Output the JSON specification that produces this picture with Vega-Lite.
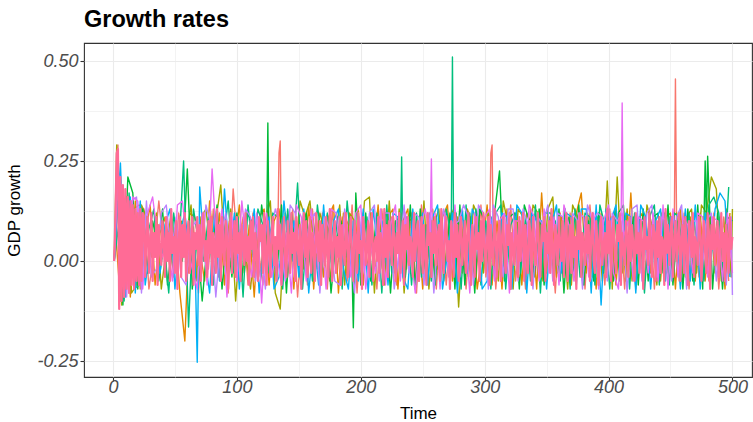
{
"$schema":"https://vega.github.io/schema/vega-lite/v6.json",
"width":668,"height":334,
"autosize":{"type":"none"},
"padding":{"left":84,"top":43,"right":1,"bottom":45},
"background":"white",
"config":{"view":{"stroke":"#333333","strokeWidth":1.1},"font":"Liberation Sans"},
"title":{"text":"Growth rates","anchor":"start","frame":"group","fontSize":23.5,"fontWeight":"bold","font":"Liberation Sans","color":"#000000","baseline":"alphabetic","offset":-7},
"data":{"values":[
{"t":1,"p":0,"r":0,"o":0,"y":0,"g":0,"c":0,"b":0,"v":0,"m":0},
{"t":2,"p":0.12,"o":0.08,"b":0.05},
{"t":3,"p":0.27,"y":0.29,"v":0.2},
{"t":4,"p":0.28,"g":0.15,"m":0.22,"r":0.29},
{"t":5,"p":-0.12,"r":-0.11,"c":0.1},
{"t":6,"p":0.21,"o":-0.1,"b":0.245},
{"t":7,"p":-0.1,"y":-0.11,"v":0.18},
{"t":8,"p":0.19,"g":-0.11,"m":0.17},
{"t":9,"p":-0.09,"r":0.15,"c":-0.1},
{"t":10,"p":0.18,"o":0.14,"b":-0.09},
{"t":11,"p":-0.07,"y":0.16,"v":-0.09},
{"t":12,"p":0.16,"g":0.21,"m":-0.06},
{"t":13,"p":-0.08,"r":-0.08,"c":0.17},
{"t":14,"p":0.15,"o":-0.09,"b":0.16},
{"t":15,"p":-0.06,"y":-0.08,"v":0.15},
{"t":16,"p":0.14,"g":0.17,"m":0.16},
{"t":17,"p":-0.07,"r":0.13,"c":-0.07},
{"t":18,"p":0.13,"o":0.15,"b":-0.08},
{"t":19,"p":-0.05,"y":-0.06,"v":0.16},
{"t":20,"p":0.12,"g":-0.07,"m":0.15},
{"t":21,"p":-0.06,"r":0.14,"c":-0.06},
{"t":22,"p":0.13,"o":-0.07,"b":0.15},
{"t":23,"p":-0.05,"y":0.14,"v":-0.08},
{"t":24,"p":0.12,"g":0.13,"m":-0.07},
{"t":25,"p":0.1,"r":0.13,"c":0.02},
{"t":26,"p":-0.04,"o":0.06,"b":-0.06},
{"t":27,"p":0.06,"y":0.11,"v":0.15},
{"t":28,"p":0.11,"g":-0.03,"m":0.12},
{"t":29,"p":-0.03,"r":-0.07,"c":0.08},
{"t":30,"p":0.04,"o":0.14,"b":0.03},
{"t":31,"p":0.12,"y":0.01,"v":-0.04},
{"t":32,"p":-0.05,"g":0.1,"m":0.16},
{"t":33,"p":0.07,"r":0.02,"c":0.13},
{"t":34,"p":0.01,"o":-0.06,"b":0.05},
{"t":35,"p":0.11,"y":0.12,"v":-0.02},
{"t":36,"p":-0.06,"g":0.04,"m":0.06},
{"t":37,"p":0.09,"r":0.15,"c":-0.05},
{"t":38,"p":0.03,"o":0.07,"b":-0.03},
{"t":39,"p":-0.01,"y":-0.07,"v":0.12},
{"t":40,"p":0.1,"g":0.13,"m":0.01},
{"t":41,"p":0.05,"r":0.03,"c":0.04},
{"t":42,"p":-0.04,"o":0.11,"b":0.09},
{"t":43,"p":0.11,"y":0.03,"v":0.14},
{"t":44,"p":0,"g":-0.06,"m":0.05},
{"t":45,"p":0.07,"r":0.09,"c":-0.08},
{"t":46,"p":-0.05,"o":-0.02,"b":0.13},
{"t":47,"p":0.13,"y":0.12,"v":0.02},
{"t":48,"p":0.02,"g":0.05,"m":-0.05},
{"t":49,"p":0.06,"r":-0.04,"c":0.12},
{"t":50,"p":-0.03,"o":0.08,"b":-0.07},
{"t":51,"p":0.1,"y":0.01,"v":0.11},
{"t":52,"p":-0.07,"g":0.05,"m":0.14},
{"t":53,"p":0.05,"r":0.12,"c":0.02},
{"t":54,"p":0.11,"o":-0.08,"b":0.07},
{"t":55,"p":-0.04,"y":0.1,"v":-0.04},
{"t":56,"p":0.09,"g":0,"m":0.15},
{"t":57,"p":0.01,"r":0.05,"c":0.25},
{"t":58,"p":0.12,"o":-0.2,"b":0.12},
{"t":59,"p":-0.05,"y":0.06,"v":-0.06},
{"t":60,"p":0.06,"g":0.23,"m":0.04},
{"t":61,"p":0.1,"r":-0.03,"c":-0.165},
{"t":62,"p":-0.03,"o":0.12,"b":0.01},
{"t":63,"p":0.04,"y":0.14,"v":0.08},
{"t":64,"p":0.11,"g":-0.07,"m":-0.02},
{"t":65,"p":-0.06,"r":0.09,"c":0.13},
{"t":66,"p":0.07,"o":0.11,"b":0.04},
{"t":67,"p":0.03,"y":-0.05,"v":0.1},
{"t":68,"p":0.11,"g":0.06,"m":-0.07,"b":-0.253},
{"t":69,"p":-0.01,"r":-0.08,"c":0.05},
{"t":70,"p":0.09,"o":0.03,"b":0.185},
{"t":71,"p":-0.05,"y":0.11,"v":-0.03},
{"t":72,"p":0.06,"g":-0.1,"m":0.12},
{"t":73,"p":0.12,"r":0.12,"c":0},
{"t":74,"p":0,"o":-0.05,"b":0.01},
{"t":75,"p":0.05,"y":0.13,"v":0.14},
{"t":76,"p":-0.04,"g":0.04,"m":-0.06},
{"t":77,"p":0.1,"r":-0.02,"c":0.11},
{"t":78,"p":0.02,"o":0.15,"b":-0.08},
{"t":79,"p":0.11,"y":0.02,"v":0.09},
{"t":80,"p":-0.06,"g":0.03,"m":0.23},
{"t":81,"p":0.07,"r":0.13,"c":-0.06},
{"t":82,"p":0.04,"o":0.01,"b":0.12},
{"t":83,"p":-0.03,"y":0.1,"v":-0.09},
{"t":84,"p":0.13,"g":0.14,"m":0.02},
{"t":85,"p":0.01,"r":-0.04,"c":0.08},
{"t":86,"p":0.09,"o":0.12,"b":-0.05},
{"t":87,"p":-0.05,"y":0.19,"v":0.06},
{"t":88,"p":0.11,"g":-0.07,"m":0.13},
{"t":89,"p":0.03,"r":0.11,"c":0.05},
{"t":90,"p":-0.01,"o":-0.06,"b":0.18},
{"t":91,"p":0.1,"y":0,"v":0.12},
{"t":92,"p":0.06,"g":0.07,"m":-0.09},
{"t":93,"p":-0.07,"r":-0.08,"c":0.15},
{"t":94,"p":0.07,"o":0.1,"b":0},
{"t":95,"p":0.12,"y":0.13,"v":0.01},
{"t":96,"p":-0.03,"g":-0.04,"m":0.11},
{"t":97,"p":0.04,"r":0.18,"c":-0.03},
{"t":98,"p":0.1,"o":0.04,"b":0.12},
{"t":99,"p":-0.04,"y":-0.1,"v":0.06},
{"t":100,"p":0.11,"g":0.12,"m":-0.05},
{"t":101,"p":0.02,"r":0.02,"c":0.11},
{"t":102,"p":0.07,"o":0.14,"b":-0.07},
{"t":103,"p":-0.05,"y":0.08,"v":-0.02},
{"t":104,"p":0.09,"g":-0.05,"m":0.15},
{"t":105,"p":0.05,"r":0.11,"c":-0.09},
{"t":106,"p":-0.01,"o":-0.03,"b":0.1},
{"t":107,"p":0.12,"y":0.02,"v":0.13},
{"t":108,"p":0,"g":0.12,"m":0.03},
{"t":109,"p":0.06,"r":-0.06,"c":0.14},
{"t":110,"p":-0.06,"o":0.09,"b":0.03},
{"t":111,"p":0.1,"y":-0.07,"v":0.11},
{"t":112,"p":0.03,"g":0.1,"m":-0.04},
{"t":113,"p":0.11,"r":0.12,"c":0.01},
{"t":114,"p":-0.04,"o":-0.09,"b":0.13},
{"t":115,"p":0.07,"y":0.06,"v":-0.05},
{"t":116,"p":0.01,"g":-0.02,"m":0.12},
{"t":117,"p":-0.05,"r":0.04,"c":0.13},
{"t":118,"p":0.11,"o":0.11,"b":-0.08},
{"t":119,"p":0.05,"y":-0.04,"v":0.07},
{"t":120,"p":0.09,"g":0.14,"m":-0.105},
{"t":121,"p":-0.03,"r":-0.06,"c":0.09},
{"t":122,"p":0.12,"o":0.13,"b":0.05},
{"t":123,"p":0.02,"y":0.1,"v":-0.07},
{"t":124,"p":-0.06,"g":0.04,"m":0.12},
{"t":125,"p":0.1,"r":0.14,"c":-0.03,"g":0.345},
{"t":126,"p":0.04,"o":-0.06,"b":0.11,"g":0.03},
{"t":127,"p":-0.04,"y":0.15,"v":0.06},
{"t":128,"p":0.07,"g":0.08,"m":-0.04},
{"t":129,"p":0.11,"r":-0.03,"c":0.12},
{"t":130,"p":-0.01,"o":0.1,"b":-0.07},
{"t":131,"p":0.06,"y":-0.08,"v":0.13},
{"t":132,"p":-0.05,"g":-0.05,"m":0.02},
{"t":133,"p":0.13,"r":0.05,"c":0.11},
{"t":134,"p":0.03,"o":0.13,"b":-0.04,"r":0.27},
{"t":135,"p":0.09,"y":-0.12,"v":0.09,"r":0.3},
{"t":136,"p":-0.06,"g":0.14,"m":-0.06,"r":0.03},
{"t":137,"p":0.05,"r":0.1,"c":-0.07},
{"t":138,"p":0.11,"o":0.02,"b":0.15},
{"t":139,"p":0,"y":0.12,"v":-0.05},
{"t":140,"p":-0.04,"g":-0.08,"m":0.07},
{"t":141,"p":0.1,"r":-0.04,"c":0.13},
{"t":142,"p":0.06,"o":0.11,"b":0.02},
{"t":143,"p":-0.03,"y":0.06,"v":0.14},
{"t":144,"p":0.12,"g":0.12,"m":-0.08},
{"t":145,"p":0.02,"r":0.13,"c":0},
{"t":146,"p":0.07,"o":-0.07,"b":0.1},
{"t":147,"p":-0.05,"y":-0.03,"v":0.12},
{"t":148,"p":0.11,"g":0.03,"m":0.14},
{"t":149,"p":0.04,"r":-0.09,"c":0.195},
{"t":150,"p":-0.01,"o":0.12,"b":-0.04},
{"t":151,"p":0.09,"y":0.15,"v":0.05},
{"t":152,"p":-0.07,"g":-0.06,"m":0.11},
{"t":153,"p":0.06,"r":0.09,"c":-0.07},
{"t":154,"p":0.12,"o":-0.02,"b":0.13},
{"t":155,"p":0.01,"y":0.11,"v":0.03},
{"t":156,"p":0.1,"g":0.12,"m":-0.05},
{"t":157,"p":-0.04,"r":-0.06,"c":0.08},
{"t":158,"p":0.05,"o":0.14,"b":-0.08},
{"t":159,"p":0.11,"y":0.15,"v":0.1},
{"t":160,"p":-0.03,"g":-0.03,"m":0.13},
{"t":161,"p":0.07,"r":0.13,"c":-0.05},
{"t":162,"p":0.03,"o":-0.07,"b":0.06},
{"t":163,"p":-0.05,"y":0.02,"v":0.12},
{"t":164,"p":0.12,"g":0.11,"m":0.02},
{"t":165,"p":0.06,"r":-0.02,"c":0.14},
{"t":166,"p":0,"o":0.1,"b":-0.06},
{"t":167,"p":0.1,"y":0.12,"v":-0.08},
{"t":168,"p":-0.06,"g":-0.05,"m":0.09},
{"t":169,"p":0.09,"r":0.12,"c":0.04},
{"t":170,"p":0.04,"o":-0.04,"b":0.14},
{"t":171,"p":-0.01,"y":0.07,"v":0.11},
{"t":172,"p":0.11,"g":0.1,"m":-0.07},
{"t":173,"p":0.02,"r":-0.07,"c":0.12},
{"t":174,"p":-0.04,"o":0.11,"b":-0.02},
{"t":175,"p":0.13,"y":-0.05,"v":0.08},
{"t":176,"p":0.05,"g":-0.08,"m":0.13},
{"t":177,"p":-0.05,"r":0.13,"c":-0.04},
{"t":178,"p":0.07,"o":0.14,"b":0.1},
{"t":179,"p":0.1,"y":0.06,"v":-0.05},
{"t":180,"p":-0.03,"g":0.05,"m":0.12},
{"t":181,"p":0.06,"r":-0.03,"c":0.11},
{"t":182,"p":0.01,"o":-0.08,"b":0.13},
{"t":183,"p":0.11,"y":0.14,"v":-0.06},
{"t":184,"p":-0.06,"g":0.1,"m":0.01},
{"t":185,"p":0.09,"r":0.11,"c":-0.07},
{"t":186,"p":0.03,"o":0.12,"b":-0.02},
{"t":187,"p":-0.01,"y":-0.06,"v":0.13},
{"t":188,"p":0.12,"g":0.01,"m":0.12},
{"t":189,"p":0.04,"r":-0.05,"c":0.15},
{"t":190,"p":-0.04,"o":0.09,"b":-0.07},
{"t":191,"p":0.07,"y":0.12,"v":0.03},
{"t":192,"p":0.11,"g":0.11,"m":-0.04},
{"t":193,"p":0,"r":0.14,"c":0.02},
{"t":194,"p":-0.05,"o":-0.03,"b":0.1,"g":-0.167},
{"t":195,"p":0.1,"y":0.1,"v":-0.08},
{"t":196,"p":0.06,"g":0.17,"m":0.12},
{"t":197,"p":-0.03,"r":-0.08,"c":0.07},
{"t":198,"p":0.12,"o":0.13,"b":-0.05},
{"t":199,"p":0.02,"y":-0.02,"v":0.11},
{"t":200,"p":0.05,"g":-0.06,"m":0.14},
{"t":201,"p":-0.07,"r":0.12,"c":0.02},
{"t":202,"p":0.11,"o":-0.06,"b":0.13},
{"t":203,"p":0.07,"y":0.15,"v":-0.03},
{"t":204,"p":-0.01,"g":0.12,"m":-0.07},
{"t":205,"p":0.03,"r":-0.02,"c":0.11},
{"t":206,"p":0.1,"o":0.1,"b":-0.08},
{"t":207,"p":-0.04,"y":0.16,"v":0.12},
{"t":208,"p":0.09,"g":-0.05,"m":0.04},
{"t":209,"p":0.12,"r":0.11,"c":-0.06},
{"t":210,"p":-0.05,"o":0.01,"b":0.13},
{"t":211,"p":0.04,"y":-0.08,"v":0.14},
{"t":212,"p":0.06,"g":0.09,"m":-0.03},
{"t":213,"p":0,"r":-0.07,"c":0.12},
{"t":214,"p":0.11,"o":0.14,"b":0.03},
{"t":215,"p":-0.03,"y":0.11,"v":-0.05},
{"t":216,"p":0.07,"g":-0.02,"m":0.13},
{"t":217,"p":0.05,"r":0.13,"c":-0.08},
{"t":218,"p":-0.06,"o":-0.04,"b":0.1},
{"t":219,"p":0.13,"y":-0.06,"v":0.12},
{"t":220,"p":0.01,"g":0.12,"m":-0.06},
{"t":221,"p":0.09,"r":0,"c":0.14},
{"t":222,"p":-0.04,"o":0.11,"b":-0.06},
{"t":223,"p":0.1,"y":0.15,"v":0.12},
{"t":224,"p":0.04,"g":-0.08,"m":0.09},
{"t":225,"p":-0.01,"r":0.11,"c":-0.03},
{"t":226,"p":0.11,"o":0.13,"b":0.12},
{"t":227,"p":0.06,"y":-0.03,"v":-0.07},
{"t":228,"p":-0.05,"g":0.1,"m":0.14},
{"t":229,"p":0.07,"r":-0.06,"c":0.1},
{"t":230,"p":0.02,"o":-0.07,"b":0.11},
{"t":231,"p":0.12,"y":0.13,"v":0.02},
{"t":232,"p":-0.03,"g":0.11,"m":-0.05,"c":0.05},
{"t":233,"p":0.05,"r":0.12,"c":0.26},
{"t":234,"p":0.1,"o":0.1,"b":-0.04,"c":0.03},
{"t":235,"p":-0.06,"y":-0.08,"v":0.14},
{"t":236,"p":0.09,"g":-0.04,"m":0.12},
{"t":237,"p":0.03,"r":-0.02,"c":0.11},
{"t":238,"p":0.11,"o":0.13,"b":-0.07},
{"t":239,"p":-0.01,"y":0.1,"v":-0.03},
{"t":240,"p":0.06,"g":0.14,"m":0.03},
{"t":241,"p":0.04,"r":0.12,"c":-0.06},
{"t":242,"p":-0.04,"o":-0.03,"b":0.13},
{"t":243,"p":0.12,"y":0.11,"v":0.12},
{"t":244,"p":0,"g":-0.07,"m":-0.08},
{"t":245,"p":0.07,"r":-0.08,"c":0.12},
{"t":246,"p":0.1,"o":0.1,"b":-0.02},
{"t":247,"p":-0.05,"y":-0.05,"v":0.11},
{"t":248,"p":0.05,"g":0.13,"m":0.08},
{"t":249,"p":0.11,"r":0.14,"c":-0.04},
{"t":250,"p":-0.03,"o":-0.07,"b":0.12},
{"t":251,"p":0.09,"y":0.15,"v":-0.06},
{"t":252,"p":0.01,"g":-0.02,"m":0.13},
{"t":253,"p":-0.06,"r":-0.04,"c":0.09},
{"t":254,"p":0.12,"o":0.11,"b":-0.06},
{"t":255,"p":0.04,"y":-0.07,"v":0.12},
{"t":256,"p":0.07,"g":0.12,"m":0.06},
{"t":257,"p":-0.04,"r":0.1,"c":-0.05,"m":0.255},
{"t":258,"p":0.1,"o":0.13,"b":0.11,"m":0.02},
{"t":259,"p":0.02,"y":0.09,"v":-0.08},
{"t":260,"p":0.11,"g":-0.06,"m":0.12},
{"t":261,"p":-0.01,"r":-0.07,"c":0.11},
{"t":262,"p":0.06,"o":-0.02,"b":0.14},
{"t":263,"p":0.09,"y":0.13,"v":0.08},
{"t":264,"p":-0.05,"g":0.1,"m":-0.07},
{"t":265,"p":0.13,"r":0.12,"c":-0.03},
{"t":266,"p":0.03,"o":0.11,"b":-0.07},
{"t":267,"p":-0.03,"y":-0.05,"v":0.13},
{"t":268,"p":0.07,"g":-0.03,"m":0.12},
{"t":269,"p":0.11,"r":-0.06,"c":0.13},
{"t":270,"p":0,"o":0.14,"b":0.02},
{"t":271,"p":0.05,"y":0.1,"v":-0.04},
{"t":272,"p":-0.07,"g":0.12,"m":-0.06},
{"t":273,"p":0.1,"r":0.11,"c":0.06},
{"t":274,"p":0.06,"o":-0.05,"b":0.12,"c":0.51},
{"t":275,"p":-0.04,"y":0.13,"v":0.09,"c":0.04},
{"t":276,"p":0.12,"g":-0.07,"m":0.14},
{"t":277,"p":0.01,"r":-0.02,"c":0.12},
{"t":278,"p":0.09,"o":0.11,"b":-0.08},
{"t":279,"p":-0.05,"y":-0.115,"v":0.1},
{"t":280,"p":0.07,"g":0.14,"m":-0.04},
{"t":281,"p":0.11,"r":0.12,"c":-0.07},
{"t":282,"p":-0.01,"o":-0.03,"b":0.13},
{"t":283,"p":0.04,"y":0.1,"v":0.14},
{"t":284,"p":0.1,"g":-0.06,"m":0.09},
{"t":285,"p":-0.03,"r":-0.07,"c":0.14},
{"t":286,"p":0.06,"o":0.13,"b":-0.03},
{"t":287,"p":0.12,"y":-0.04,"v":0.11},
{"t":288,"p":0.02,"g":0.12,"m":-0.08},
{"t":289,"p":-0.06,"r":0.11,"c":-0.04},
{"t":290,"p":0.09,"o":0.09,"b":0.13},
{"t":291,"p":0.05,"y":0.14,"v":-0.06},
{"t":292,"p":-0.04,"g":-0.08,"m":0.12},
{"t":293,"p":0.11,"r":-0.05,"c":0.13},
{"t":294,"p":0.03,"o":-0.07,"b":0.1},
{"t":295,"p":0.07,"y":0.11,"v":0.14},
{"t":296,"p":-0.05,"g":0.13,"m":-0.03},
{"t":297,"p":0.1,"r":0.14,"c":-0.06},
{"t":298,"p":0,"o":0.02,"b":-0.07},
{"t":299,"p":0.12,"y":-0.03,"v":0.12},
{"t":300,"p":0.04,"g":0.1,"m":0.11},
{"t":301,"p":-0.03,"r":-0.04,"c":0.1},
{"t":302,"p":0.06,"o":0.14,"b":-0.05},
{"t":303,"p":0.11,"y":0.12,"v":-0.07},
{"t":304,"p":-0.06,"g":-0.03,"m":0.13,"r":0.05},
{"t":305,"p":0.09,"r":0.27,"c":-0.07},
{"t":306,"p":0.02,"o":-0.06,"b":0.11,"r":0.29},
{"t":307,"p":-0.01,"y":0.1,"v":0.14,"r":0.04},
{"t":308,"p":0.13,"g":0.12,"m":-0.05},
{"t":309,"p":0.05,"r":-0.07,"c":0.12},
{"t":310,"p":-0.04,"o":0.1,"b":-0.03},
{"t":311,"p":0.07,"y":-0.05,"v":0.11},
{"t":312,"p":0.1,"g":0.225,"m":0.1},
{"t":313,"p":-0.05,"r":0.11,"c":0.14},
{"t":314,"p":0.06,"o":-0.07,"b":0.12},
{"t":315,"p":0.11,"y":0.15,"v":-0.04},
{"t":316,"p":0.01,"g":-0.05,"m":0.12},
{"t":317,"p":-0.03,"r":-0.03,"c":-0.07},
{"t":318,"p":0.09,"o":0.13,"b":0.11},
{"t":319,"p":0.04,"y":0.09,"v":0.13},
{"t":320,"p":0.12,"g":0.11,"m":-0.08},
{"t":321,"p":-0.07,"r":0.14,"c":0.09},
{"t":322,"p":0.07,"o":-0.04,"b":-0.07},
{"t":323,"p":0.03,"y":-0.07,"v":0.13},
{"t":324,"p":-0.01,"g":0.12,"m":0.1},
{"t":325,"p":0.1,"r":-0.05,"c":0.12},
{"t":326,"p":0.06,"o":0.11,"b":0.14},
{"t":327,"p":-0.04,"y":0.13,"v":-0.05},
{"t":328,"p":0.11,"g":-0.07,"m":0.1},
{"t":329,"p":0,"r":0.1,"c":-0.03},
{"t":330,"p":0.05,"o":-0.06,"b":0.12},
{"t":331,"p":0.12,"y":0.11,"v":0.13},
{"t":332,"p":-0.05,"g":0.14,"m":-0.04},
{"t":333,"p":0.09,"r":-0.07,"c":0.11},
{"t":334,"p":0.02,"o":0.12,"b":-0.08},
{"t":335,"p":-0.03,"y":-0.03,"v":0.09},
{"t":336,"p":0.1,"g":0.1,"m":0.14},
{"t":337,"p":0.07,"r":0.13,"c":-0.05},
{"t":338,"p":-0.06,"o":0.09,"b":0.12},
{"t":339,"p":0.11,"y":0.14,"v":-0.07},
{"t":340,"p":0.04,"g":-0.04,"m":0.11},
{"t":341,"p":-0.01,"r":-0.03,"c":0.14},
{"t":342,"p":0.06,"o":-0.07,"b":0.1},
{"t":343,"p":0.12,"y":0.12,"v":0.11},
{"t":344,"p":0.01,"g":0.13,"m":-0.05},
{"t":345,"p":-0.04,"r":0.11,"c":-0.08},
{"t":346,"p":0.09,"o":0.17,"b":0.1},
{"t":347,"p":0.05,"y":-0.05,"v":0.09},
{"t":348,"p":0.11,"g":-0.06,"m":0.13},
{"t":349,"p":-0.05,"r":-0.05,"c":0.12},
{"t":350,"p":0.07,"o":-0.03,"b":-0.07},
{"t":351,"p":0.02,"y":0.13,"v":0.14},
{"t":352,"p":0.1,"g":0.11,"m":-0.03},
{"t":353,"p":-0.03,"r":0.1,"c":0.12},
{"t":354,"p":0.13,"o":0.13,"b":0.09},
{"t":355,"p":0.03,"y":0.16,"v":-0.05},
{"t":356,"p":-0.06,"g":-0.05,"m":0.11},
{"t":357,"p":0.09,"r":-0.08,"c":0.1},
{"t":358,"p":0.06,"o":-0.04,"b":0.14},
{"t":359,"p":-0.01,"y":-0.03,"v":0.12},
{"t":360,"p":0.11,"g":0.13,"m":-0.06},
{"t":361,"p":0.04,"r":0.12,"c":-0.05},
{"t":362,"p":0,"o":0.11,"b":-0.03},
{"t":363,"p":0.1,"y":0.09,"v":0.11},
{"t":364,"p":-0.04,"g":-0.08,"m":0.14},
{"t":365,"p":0.07,"r":-0.03,"c":0.13},
{"t":366,"p":0.12,"o":0.1,"b":0.12},
{"t":367,"p":-0.05,"y":-0.07,"v":-0.04},
{"t":368,"p":0.05,"g":0.11,"m":0.09},
{"t":369,"p":0.09,"r":0.12,"c":-0.07},
{"t":370,"p":-0.03,"o":-0.06,"b":0.11},
{"t":371,"p":0.11,"y":0.14,"v":0.12},
{"t":372,"p":0.01,"g":-0.04,"m":-0.05},
{"t":373,"p":0.06,"r":-0.05,"c":0.13},
{"t":374,"p":-0.07,"o":0.12,"b":-0.06},
{"t":375,"p":0.1,"y":0.11,"v":0.1},
{"t":376,"p":0.03,"g":0.14,"m":0.12},
{"t":377,"p":0.12,"r":0.1,"c":-0.04},
{"t":378,"p":-0.04,"o":0.17,"b":0.13},
{"t":379,"p":0.07,"y":-0.05,"v":-0.07},
{"t":380,"p":0.04,"g":-0.06,"m":0.11},
{"t":381,"p":-0.01,"r":-0.07,"c":0.12},
{"t":382,"p":0.11,"o":-0.03,"b":0.13},
{"t":383,"p":0.02,"y":0.12,"v":0.14},
{"t":384,"p":0.09,"g":0.1,"m":-0.04},
{"t":385,"p":-0.05,"r":0.14,"c":0.11},
{"t":386,"p":0.06,"o":0.11,"b":-0.08},
{"t":387,"p":0.12,"y":-0.04,"v":0.1},
{"t":388,"p":0,"g":-0.05,"m":0.12},
{"t":389,"p":-0.03,"r":-0.03,"c":-0.06},
{"t":390,"p":0.1,"o":-0.07,"b":0.14},
{"t":391,"p":0.05,"y":0.11,"v":0.12},
{"t":392,"p":-0.06,"g":0.12,"m":-0.07},
{"t":393,"p":0.09,"r":0.11,"c":0.14},
{"t":394,"p":0.11,"o":0.12,"b":-0.11},
{"t":395,"p":-0.01,"y":-0.05,"v":0.11},
{"t":396,"p":0.04,"g":-0.03,"m":0.1},
{"t":397,"p":0.07,"r":-0.06,"c":0.09},
{"t":398,"p":-0.04,"o":-0.04,"b":0.13},
{"t":399,"p":0.13,"y":0.2,"v":-0.05},
{"t":400,"p":0.02,"g":0.11,"m":0.14},
{"t":401,"p":0.1,"r":0.13,"c":-0.07},
{"t":402,"p":-0.05,"o":0.11,"b":0.1},
{"t":403,"p":0.06,"y":-0.07,"v":0.12},
{"t":404,"p":0.11,"g":-0.05,"m":-0.03},
{"t":405,"p":0.01,"r":-0.04,"c":0.13},
{"t":406,"p":-0.03,"o":-0.06,"b":0.14},
{"t":407,"p":0.09,"y":0.21,"v":0.1},
{"t":408,"p":0.05,"g":0.12,"m":-0.07},
{"t":409,"p":0.12,"r":0.11,"c":-0.05},
{"t":410,"p":-0.06,"o":0.1,"b":-0.04,"m":0.05},
{"t":411,"p":0.07,"y":-0.03,"v":0.12,"m":0.395},
{"t":412,"p":0.03,"g":0.14,"m":0.06},
{"t":413,"p":-0.01,"r":-0.07,"c":0.11},
{"t":414,"p":0.1,"o":-0.05,"b":0.12},
{"t":415,"p":0.06,"y":0.13,"v":-0.08},
{"t":416,"p":-0.04,"g":-0.04,"m":0.1},
{"t":417,"p":0.11,"r":0.12,"c":-0.07},
{"t":418,"p":0,"o":0.17,"b":0.11},
{"t":419,"p":0.09,"y":-0.05,"v":0.13},
{"t":420,"p":0.04,"g":0.11,"m":-0.05},
{"t":421,"p":-0.05,"r":-0.03,"c":0.12},
{"t":422,"p":0.12,"o":-0.07,"b":-0.08},
{"t":423,"p":0.02,"y":0.1,"v":0.14},
{"t":424,"p":0.07,"g":-0.06,"m":0.11},
{"t":425,"p":-0.03,"r":0.11,"c":0.09},
{"t":426,"p":0.1,"o":0.12,"b":0.14},
{"t":427,"p":0.05,"y":-0.04,"v":-0.05},
{"t":428,"p":-0.07,"g":0.13,"m":0.1},
{"t":429,"p":0.11,"r":-0.05,"c":-0.08},
{"t":430,"p":0.03,"o":0.1,"b":0.11},
{"t":431,"p":0.06,"y":0.14,"v":0.12},
{"t":432,"p":-0.01,"g":-0.05,"m":-0.03},
{"t":433,"p":0.12,"r":0.13,"c":0.11},
{"t":434,"p":0.04,"o":-0.03,"b":-0.07},
{"t":435,"p":-0.04,"y":0.09,"v":0.14},
{"t":436,"p":0.09,"g":0.11,"m":0.12},
{"t":437,"p":0.07,"r":-0.07,"c":0.14},
{"t":438,"p":-0.05,"o":0.11,"b":0.1},
{"t":439,"p":0.1,"y":-0.06,"v":-0.04},
{"t":440,"p":0.01,"g":0.12,"m":-0.05},
{"t":441,"p":0.11,"r":0.1,"c":-0.06},
{"t":442,"p":-0.03,"o":-0.05,"b":0.13},
{"t":443,"p":0.06,"y":0.12,"v":0.11},
{"t":444,"p":0.05,"g":-0.03,"m":0.14},
{"t":445,"p":-0.06,"r":-0.04,"c":0.12},
{"t":446,"p":0.13,"o":0.11,"b":-0.05},
{"t":447,"p":0.02,"y":-0.03,"v":0.1},
{"t":448,"p":0.09,"g":0.14,"m":-0.07},
{"t":449,"p":-0.01,"r":0.11,"c":-0.06},
{"t":450,"p":0.07,"o":0.12,"b":0.11},
{"t":451,"p":0.11,"y":0.11,"v":-0.05},
{"t":452,"p":-0.04,"g":-0.06,"m":0.13},
{"t":453,"p":0.04,"r":0.05,"c":0.12},
{"t":454,"p":0.1,"o":-0.07,"b":0.1,"r":0.455},
{"t":455,"p":0,"y":0.12,"v":0.11,"r":0.06},
{"t":456,"p":0.06,"g":0.1,"m":-0.04},
{"t":457,"p":0.12,"r":-0.05,"c":0.11},
{"t":458,"p":-0.05,"o":0.13,"b":-0.07},
{"t":459,"p":0.05,"y":-0.05,"v":0.14},
{"t":460,"p":0.09,"g":-0.07,"m":0.11},
{"t":461,"p":-0.03,"r":0.12,"c":-0.03},
{"t":462,"p":0.11,"o":-0.04,"b":0.13},
{"t":463,"p":0.03,"y":0.11,"v":-0.07},
{"t":464,"p":-0.06,"g":0.13,"m":0.09},
{"t":465,"p":0.1,"r":-0.07,"c":0.12},
{"t":466,"p":0.07,"o":0.11,"b":-0.05},
{"t":467,"p":0.01,"y":0.13,"v":0.1},
{"t":468,"p":0.12,"g":-0.05,"m":-0.03},
{"t":469,"p":-0.04,"r":0.1,"c":-0.06},
{"t":470,"p":0.06,"o":-0.05,"b":0.14},
{"t":471,"p":0.04,"y":-0.03,"v":0.1},
{"t":472,"p":-0.01,"g":0.14,"m":0.12},
{"t":473,"p":0.11,"r":-0.04,"c":0.11},
{"t":474,"p":0.09,"o":0.12,"b":-0.07},
{"t":475,"p":-0.05,"y":0.14,"v":-0.05},
{"t":476,"p":0.05,"g":-0.07,"m":0.11},
{"t":477,"p":0.1,"r":0.11,"c":-0.05},
{"t":478,"p":0.02,"o":-0.05,"b":0.12,"g":0.25},
{"t":479,"p":-0.03,"y":0.12,"v":0.1,"g":0.1},
{"t":480,"p":0.12,"g":0.262,"m":-0.04},
{"t":481,"p":0.07,"r":-0.05,"c":0.14},
{"t":482,"p":-0.07,"o":0.11,"b":-0.03},
{"t":483,"p":0.09,"y":0.21,"v":0.12},
{"t":484,"p":0.03,"g":-0.07,"m":0.11},
{"t":485,"p":0.11,"r":0.12,"c":0.16},
{"t":486,"p":-0.01,"o":-0.03,"b":0.13},
{"t":487,"p":0.06,"y":0.18,"v":-0.05},
{"t":488,"p":0.1,"g":0.12,"m":0.1},
{"t":489,"p":-0.04,"r":-0.07,"c":0.12},
{"t":490,"p":0.04,"o":0.11,"b":0.17},
{"t":491,"p":0.12,"y":-0.05,"v":0.11},
{"t":492,"p":0,"g":-0.07,"m":-0.05},
{"t":493,"p":0.07,"r":0.11,"c":-0.04},
{"t":494,"p":-0.05,"o":-0.07,"b":0.15},
{"t":495,"p":0.09,"y":0.13,"v":-0.06},
{"t":496,"p":0.05,"g":0.11,"m":0.12},
{"t":497,"p":-0.03,"r":-0.05,"c":0.185},
{"t":498,"p":0.11,"o":0.12,"b":-0.04},
{"t":499,"p":0.03,"y":-0.04,"v":0.11},
{"t":500,"p":0.06,"g":0.1,"m":-0.03,"y":0.13,"v":-0.085}
]},
"transform":[
{"fold":["r","o","y","g","c","b","v","m","p"],"as":["s","val"]},
{"filter":"isValid(datum.val)"}
],
"encoding":{
"x":{"field":"t","type":"quantitative","title":"Time",
"scale":{"domain":[-23.4,515.8],"nice":false,"zero":false},
"axis":{"values":[0,50,100,150,200,250,300,350,400,450,500],"format":"d",
"labelExpr":"datum.value % 100 == 0 ? datum.label : ''",
"labelFlush":false,"labelOverlap":false,"domain":false,
"grid":true,"gridColor":"#EBEBEB",
"gridWidth":{"condition":{"test":"datum.value % 100 != 0","value":0.6},"value":1.1},
"tickColor":"#333333","tickWidth":1.1,"tickSize":4,
"tickOpacity":{"condition":{"test":"datum.value % 100 != 0","value":0},"value":1},
"labelFont":"Liberation Sans","labelFontStyle":"italic","labelFontSize":18,"labelColor":"#4D4D4D","labelPadding":-3,
"titleFont":"Liberation Sans","titleFontSize":17,"titleFontWeight":"normal","titleColor":"#000000",
"titleX":334,"titleY":36,"titleAlign":"center","titleBaseline":"middle"}},
"y":{"field":"val","type":"quantitative","title":"GDP growth",
"scale":{"domain":[-0.29,0.545],"nice":false,"zero":false},
"axis":{"values":[-0.25,-0.125,0,0.125,0.25,0.375,0.5],"format":".2f",
"labelExpr":"abs(datum.value*4-round(datum.value*4))>0.01 ? '' : replace(datum.label,'−','-')",
"labelOverlap":false,"domain":false,
"grid":true,"gridColor":"#EBEBEB",
"gridWidth":{"condition":{"test":"abs(datum.value*4-round(datum.value*4))>0.01","value":0.6},"value":1.1},
"tickColor":"#333333","tickWidth":1.1,"tickSize":4,
"tickOpacity":{"condition":{"test":"abs(datum.value*4-round(datum.value*4))>0.01","value":0},"value":1},
"labelFont":"Liberation Sans","labelFontStyle":"italic","labelFontSize":18,"labelColor":"#4D4D4D","labelPadding":2,
"titleFont":"Liberation Sans","titleFontSize":17,"titleFontWeight":"normal","titleColor":"#000000",
"titleX":-70,"titleY":167,"titleAngle":-90,"titleAlign":"center","titleBaseline":"middle"}}
},
"layer":[
{"transform":[{"filter":"datum.s != 'p'"}],
"mark":{"type":"line","strokeWidth":1.4,"strokeJoin":"round","clip":true},
"encoding":{"color":{"field":"s","type":"nominal","legend":null,
"scale":{"domain":["r","o","y","g","c","b","v","m"],"range":["#F8766D","#E58700","#A3A500","#00BA38","#00BF7D","#00B0F6","#B983FF","#E76BF3"]}}}},
{"transform":[{"filter":"datum.s == 'p'"}],
"mark":{"type":"line","strokeWidth":2.2,"strokeJoin":"round","clip":true,"color":"#FF6B96"},
"encoding":{}}
]
}
